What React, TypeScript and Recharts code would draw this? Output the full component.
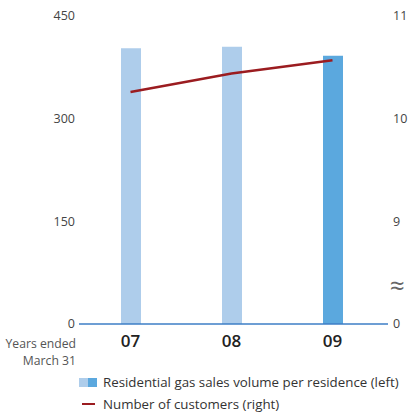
import React from "react";
import { ComposedChart, Bar, Line, XAxis, YAxis, Cell, usePlotArea } from "recharts";

const years = ["07", "08", "09"];
const salesVolume = [403, 405, 392];
const customers = [10.26, 10.44, 10.57];
const leftTicks = [0, 150, 300, 450];
const rightTicks = [8, 9, 10, 11];
const barColors = ["#AECDEB", "#AECDEB", "#5BA8DE"];

const data = years.map((y, i) => ({ year: y, sales: salesVolume[i], customers: customers[i] }));

const FONT = "'Open Sans', 'Noto Sans', sans-serif";

const Extras = () => {
  const area = usePlotArea();
  if (!area) return null;
  const left = area.x;
  const right = area.x + area.width;
  const bottom = area.y + area.height;
  return (
    <g fontFamily={FONT}>
      <text x={right + 2} y={bottom - 36} fontSize={26} fill="#666" dominantBaseline="middle">≈</text>
      <text x={left - 3} y={bottom + 24} fontSize={12.2} fill="#555" textAnchor="end">Years ended</text>
      <text x={left - 3} y={bottom + 41} fontSize={12.2} fill="#555" textAnchor="end">March 31</text>
      <rect x={left} y={bottom + 54} width={9} height={9} fill={barColors[0]} />
      <rect x={left + 9} y={bottom + 54} width={9} height={9} fill={barColors[2]} />
      <text x={left + 24} y={bottom + 63} fontSize={13.3} fill="#333">Residential gas sales volume per residence (left)</text>
      <line x1={left + 3} x2={left + 16} y1={bottom + 80} y2={bottom + 80} stroke="#9B1C20" strokeWidth={2} />
      <text x={left + 24} y={bottom + 85} fontSize={13.3} fill="#333">Number of customers (right)</text>
    </g>
  );
};

export default function App() {
  return (
    <div style={{ position: "absolute", left: 0, top: 0 }}>
      <ComposedChart width={409} height={412} data={data} margin={{ top: 16, right: 0, bottom: 58, left: 0 }}>
        <XAxis
          dataKey="year"
          xAxisId="x"
          axisLine={{ stroke: "#3C7EC6", strokeWidth: 1.5 }}
          tickLine={false}
          tickSize={0}
          tickMargin={11}
          padding={{ left: 1, right: 5 }}
          height={30}
          tick={{ fontSize: 17, fill: "#222", fontWeight: 600, fontFamily: FONT }}
        />
        <YAxis
          yAxisId="left"
          orientation="left"
          width={79}
          domain={[0, 450]}
          ticks={leftTicks}
          axisLine={false}
          tickLine={false}
          tickSize={0}
          tickMargin={4}
          tick={{ fontSize: 12.5, fill: "#444", fontFamily: FONT }}
        />
        <YAxis
          yAxisId="right"
          orientation="right"
          width={21}
          domain={[8, 11]}
          ticks={rightTicks}
          axisLine={false}
          tickLine={false}
          tickSize={0}
          tickMargin={5}
          tickFormatter={(v: number) => (v === 8 ? "0" : String(v))}
          tick={{ fontSize: 12.5, fill: "#444", fontFamily: FONT, textAnchor: "start" }}
        />
        <Bar dataKey="sales" xAxisId="x" yAxisId="left" barSize={20} isAnimationActive={false}>
          {data.map((d, i) => (
            <Cell key={d.year} fill={barColors[i]} />
          ))}
        </Bar>
        <Line
          dataKey="customers"
          xAxisId="x"
          yAxisId="right"
          stroke="#9B1C20"
          strokeWidth={2.5}
          dot={false}
          isAnimationActive={false}
        />
        <Extras />
      </ComposedChart>
    </div>
  );
}
